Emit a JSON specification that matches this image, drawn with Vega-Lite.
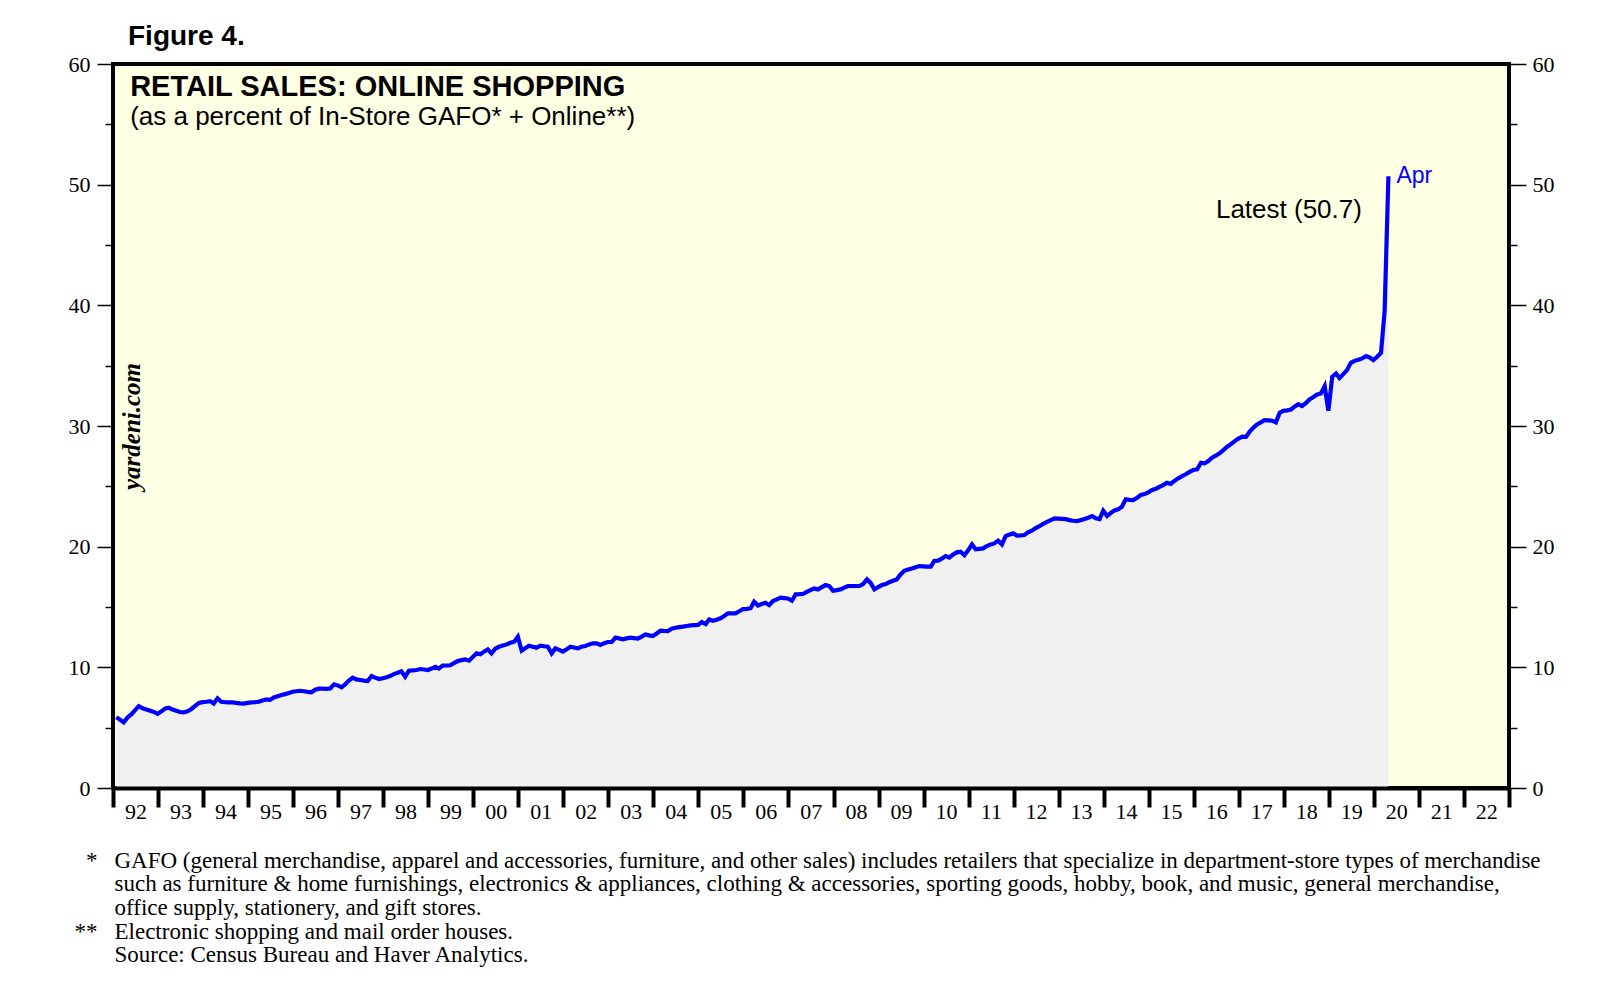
{
  "$schema": "https://vega.github.io/schema/vega-lite/v6.json",
  "autosize": {"type": "none"},
  "width": 1396,
  "height": 724,
  "padding": {"left": 113, "top": 64, "right": 101, "bottom": 196},
  "background": "white",
  "config": {
    "view": {"fill": "#FFFFE4", "stroke": "black", "strokeWidth": 4},
    "axis": {"labelFont": "Liberation Serif", "labelFontSize": 22, "labelColor": "black", "tickColor": "black", "grid": false}
  },
  "title": {"text": "Figure 4.", "anchor": "start", "frame": "group", "dx": 15, "offset": 2, "font": "Liberation Sans", "fontSize": 28, "fontWeight": "bold", "color": "black"},
  "datasets": {
    "sales": [
      {"d":"1992-01-28","v":5.86},{"d":"1992-02-28","v":5.65},{"d":"1992-03-28","v":5.44},{"d":"1992-04-28","v":5.85},{"d":"1992-05-28","v":6.10},{"d":"1992-06-28","v":6.45},{"d":"1992-07-28","v":6.79},{"d":"1992-08-28","v":6.60},{"d":"1992-09-28","v":6.50},{"d":"1992-10-28","v":6.40},{"d":"1992-11-28","v":6.30},{"d":"1992-12-28","v":6.15},
      {"d":"1993-01-28","v":6.35},{"d":"1993-02-28","v":6.60},{"d":"1993-03-28","v":6.65},{"d":"1993-04-28","v":6.50},{"d":"1993-05-28","v":6.40},{"d":"1993-06-28","v":6.30},{"d":"1993-07-28","v":6.27},{"d":"1993-08-28","v":6.35},{"d":"1993-09-28","v":6.55},{"d":"1993-10-28","v":6.80},{"d":"1993-11-28","v":7.05},{"d":"1993-12-28","v":7.12},
      {"d":"1994-01-28","v":7.15},{"d":"1994-02-28","v":7.20},{"d":"1994-03-28","v":7.00},{"d":"1994-04-28","v":7.43},{"d":"1994-05-28","v":7.15},{"d":"1994-06-28","v":7.12},{"d":"1994-07-28","v":7.10},{"d":"1994-08-28","v":7.10},{"d":"1994-09-28","v":7.05},{"d":"1994-10-28","v":7.02},{"d":"1994-11-28","v":7.00},{"d":"1994-12-28","v":7.05},
      {"d":"1995-01-28","v":7.10},{"d":"1995-02-28","v":7.12},{"d":"1995-03-28","v":7.15},{"d":"1995-04-28","v":7.25},{"d":"1995-05-28","v":7.35},{"d":"1995-06-28","v":7.30},{"d":"1995-07-28","v":7.50},{"d":"1995-08-28","v":7.60},{"d":"1995-09-28","v":7.70},{"d":"1995-10-28","v":7.78},{"d":"1995-11-28","v":7.88},{"d":"1995-12-28","v":7.98},
      {"d":"1996-01-28","v":8.02},{"d":"1996-02-28","v":8.06},{"d":"1996-03-28","v":8.02},{"d":"1996-04-28","v":7.97},{"d":"1996-05-28","v":7.93},{"d":"1996-06-28","v":8.15},{"d":"1996-07-28","v":8.23},{"d":"1996-08-28","v":8.23},{"d":"1996-09-28","v":8.22},{"d":"1996-10-28","v":8.25},{"d":"1996-11-28","v":8.59},{"d":"1996-12-28","v":8.50},
      {"d":"1997-01-28","v":8.34},{"d":"1997-02-28","v":8.60},{"d":"1997-03-28","v":8.90},{"d":"1997-04-28","v":9.14},{"d":"1997-05-28","v":9.00},{"d":"1997-06-28","v":8.95},{"d":"1997-07-28","v":8.90},{"d":"1997-08-28","v":8.86},{"d":"1997-09-28","v":9.28},{"d":"1997-10-28","v":9.15},{"d":"1997-11-28","v":9.03},{"d":"1997-12-28","v":9.10},
      {"d":"1998-01-28","v":9.17},{"d":"1998-02-28","v":9.30},{"d":"1998-03-28","v":9.44},{"d":"1998-04-28","v":9.55},{"d":"1998-05-28","v":9.67},{"d":"1998-06-28","v":9.22},{"d":"1998-07-28","v":9.72},{"d":"1998-08-28","v":9.75},{"d":"1998-09-28","v":9.78},{"d":"1998-10-28","v":9.86},{"d":"1998-11-28","v":9.82},{"d":"1998-12-28","v":9.78},
      {"d":"1999-01-28","v":9.90},{"d":"1999-02-28","v":10.05},{"d":"1999-03-28","v":9.90},{"d":"1999-04-28","v":10.14},{"d":"1999-05-28","v":10.15},{"d":"1999-06-28","v":10.17},{"d":"1999-07-28","v":10.35},{"d":"1999-08-28","v":10.52},{"d":"1999-09-28","v":10.60},{"d":"1999-10-28","v":10.66},{"d":"1999-11-28","v":10.55},{"d":"1999-12-28","v":10.85},
      {"d":"2000-01-28","v":11.16},{"d":"2000-02-28","v":11.08},{"d":"2000-03-28","v":11.30},{"d":"2000-04-28","v":11.49},{"d":"2000-05-28","v":11.16},{"d":"2000-06-28","v":11.55},{"d":"2000-07-28","v":11.70},{"d":"2000-08-28","v":11.80},{"d":"2000-09-28","v":11.90},{"d":"2000-10-28","v":12.04},{"d":"2000-11-28","v":12.12},{"d":"2000-12-28","v":12.54},
      {"d":"2001-01-28","v":11.38},{"d":"2001-02-28","v":11.60},{"d":"2001-03-28","v":11.79},{"d":"2001-04-28","v":11.70},{"d":"2001-05-28","v":11.63},{"d":"2001-06-28","v":11.79},{"d":"2001-07-28","v":11.75},{"d":"2001-08-28","v":11.71},{"d":"2001-09-28","v":11.16},{"d":"2001-10-28","v":11.57},{"d":"2001-11-28","v":11.45},{"d":"2001-12-28","v":11.30},
      {"d":"2002-01-28","v":11.50},{"d":"2002-02-28","v":11.71},{"d":"2002-03-28","v":11.65},{"d":"2002-04-28","v":11.57},{"d":"2002-05-28","v":11.70},{"d":"2002-06-28","v":11.77},{"d":"2002-07-28","v":11.90},{"d":"2002-08-28","v":11.99},{"d":"2002-09-28","v":11.99},{"d":"2002-10-28","v":11.85},{"d":"2002-11-28","v":12.00},{"d":"2002-12-28","v":12.10},
      {"d":"2003-01-28","v":12.10},{"d":"2003-02-28","v":12.46},{"d":"2003-03-28","v":12.40},{"d":"2003-04-28","v":12.32},{"d":"2003-05-28","v":12.40},{"d":"2003-06-28","v":12.46},{"d":"2003-07-28","v":12.42},{"d":"2003-08-28","v":12.38},{"d":"2003-09-28","v":12.55},{"d":"2003-10-28","v":12.73},{"d":"2003-11-28","v":12.65},{"d":"2003-12-28","v":12.59},
      {"d":"2004-01-28","v":12.80},{"d":"2004-02-28","v":13.04},{"d":"2004-03-28","v":13.02},{"d":"2004-04-28","v":13.01},{"d":"2004-05-28","v":13.20},{"d":"2004-06-28","v":13.28},{"d":"2004-07-28","v":13.33},{"d":"2004-08-28","v":13.37},{"d":"2004-09-28","v":13.43},{"d":"2004-10-28","v":13.48},{"d":"2004-11-28","v":13.50},{"d":"2004-12-28","v":13.51},
      {"d":"2005-01-28","v":13.75},{"d":"2005-02-28","v":13.59},{"d":"2005-03-28","v":13.97},{"d":"2005-04-28","v":13.86},{"d":"2005-05-28","v":13.95},{"d":"2005-06-28","v":14.06},{"d":"2005-07-28","v":14.25},{"d":"2005-08-28","v":14.47},{"d":"2005-09-28","v":14.47},{"d":"2005-10-28","v":14.47},{"d":"2005-11-28","v":14.65},{"d":"2005-12-28","v":14.83},
      {"d":"2006-01-28","v":14.85},{"d":"2006-02-28","v":14.90},{"d":"2006-03-28","v":15.44},{"d":"2006-04-28","v":15.13},{"d":"2006-05-28","v":15.25},{"d":"2006-06-28","v":15.35},{"d":"2006-07-28","v":15.16},{"d":"2006-08-28","v":15.50},{"d":"2006-09-28","v":15.63},{"d":"2006-10-28","v":15.77},{"d":"2006-11-28","v":15.74},{"d":"2006-12-28","v":15.71},
      {"d":"2007-01-28","v":15.52},{"d":"2007-02-28","v":16.05},{"d":"2007-03-28","v":16.06},{"d":"2007-04-28","v":16.08},{"d":"2007-05-28","v":16.25},{"d":"2007-06-28","v":16.40},{"d":"2007-07-28","v":16.54},{"d":"2007-08-28","v":16.46},{"d":"2007-09-28","v":16.65},{"d":"2007-10-28","v":16.82},{"d":"2007-11-28","v":16.74},{"d":"2007-12-28","v":16.35},
      {"d":"2008-01-28","v":16.40},{"d":"2008-02-28","v":16.46},{"d":"2008-03-28","v":16.60},{"d":"2008-04-28","v":16.74},{"d":"2008-05-28","v":16.74},{"d":"2008-06-28","v":16.74},{"d":"2008-07-28","v":16.74},{"d":"2008-08-28","v":16.90},{"d":"2008-09-28","v":17.29},{"d":"2008-10-28","v":17.00},{"d":"2008-11-28","v":16.46},{"d":"2008-12-28","v":16.65},
      {"d":"2009-01-28","v":16.82},{"d":"2009-02-28","v":16.90},{"d":"2009-03-28","v":17.05},{"d":"2009-04-28","v":17.18},{"d":"2009-05-28","v":17.29},{"d":"2009-06-28","v":17.70},{"d":"2009-07-28","v":18.00},{"d":"2009-08-28","v":18.10},{"d":"2009-09-28","v":18.20},{"d":"2009-10-28","v":18.30},{"d":"2009-11-28","v":18.39},{"d":"2009-12-28","v":18.37},
      {"d":"2010-01-28","v":18.34},{"d":"2010-02-28","v":18.34},{"d":"2010-03-28","v":18.81},{"d":"2010-04-28","v":18.84},{"d":"2010-05-28","v":19.00},{"d":"2010-06-28","v":19.22},{"d":"2010-07-28","v":19.10},{"d":"2010-08-28","v":19.35},{"d":"2010-09-28","v":19.53},{"d":"2010-10-28","v":19.58},{"d":"2010-11-28","v":19.30},{"d":"2010-12-28","v":19.70},
      {"d":"2011-01-28","v":20.19},{"d":"2011-02-28","v":19.78},{"d":"2011-03-28","v":19.82},{"d":"2011-04-28","v":19.86},{"d":"2011-05-28","v":20.05},{"d":"2011-06-28","v":20.19},{"d":"2011-07-28","v":20.27},{"d":"2011-08-28","v":20.49},{"d":"2011-09-28","v":20.19},{"d":"2011-10-28","v":20.88},{"d":"2011-11-28","v":21.00},{"d":"2011-12-28","v":21.10},
      {"d":"2012-01-28","v":20.91},{"d":"2012-02-28","v":20.93},{"d":"2012-03-28","v":20.96},{"d":"2012-04-28","v":21.20},{"d":"2012-05-28","v":21.32},{"d":"2012-06-28","v":21.54},{"d":"2012-07-28","v":21.70},{"d":"2012-08-28","v":21.90},{"d":"2012-09-28","v":22.05},{"d":"2012-10-28","v":22.20},{"d":"2012-11-28","v":22.34},{"d":"2012-12-28","v":22.33},
      {"d":"2013-01-28","v":22.31},{"d":"2013-02-28","v":22.28},{"d":"2013-03-28","v":22.20},{"d":"2013-04-28","v":22.15},{"d":"2013-05-28","v":22.12},{"d":"2013-06-28","v":22.20},{"d":"2013-07-28","v":22.29},{"d":"2013-08-28","v":22.40},{"d":"2013-09-28","v":22.54},{"d":"2013-10-28","v":22.35},{"d":"2013-11-28","v":22.29},{"d":"2013-12-28","v":22.98},
      {"d":"2014-01-28","v":22.54},{"d":"2014-02-28","v":22.80},{"d":"2014-03-28","v":23.00},{"d":"2014-04-28","v":23.09},{"d":"2014-05-28","v":23.31},{"d":"2014-06-28","v":23.92},{"d":"2014-07-28","v":23.88},{"d":"2014-08-28","v":23.86},{"d":"2014-09-28","v":24.05},{"d":"2014-10-28","v":24.28},{"d":"2014-11-28","v":24.36},{"d":"2014-12-28","v":24.50},
      {"d":"2015-01-28","v":24.70},{"d":"2015-02-28","v":24.80},{"d":"2015-03-28","v":24.96},{"d":"2015-04-28","v":25.10},{"d":"2015-05-28","v":25.30},{"d":"2015-06-28","v":25.20},{"d":"2015-07-28","v":25.45},{"d":"2015-08-28","v":25.66},{"d":"2015-09-28","v":25.85},{"d":"2015-10-28","v":26.00},{"d":"2015-11-28","v":26.20},{"d":"2015-12-28","v":26.35},
      {"d":"2016-01-28","v":26.40},{"d":"2016-02-28","v":26.95},{"d":"2016-03-28","v":26.90},{"d":"2016-04-28","v":27.10},{"d":"2016-05-28","v":27.37},{"d":"2016-06-28","v":27.55},{"d":"2016-07-28","v":27.73},{"d":"2016-08-28","v":28.00},{"d":"2016-09-28","v":28.28},{"d":"2016-10-28","v":28.50},{"d":"2016-11-28","v":28.75},{"d":"2016-12-28","v":28.95},
      {"d":"2017-01-28","v":29.11},{"d":"2017-02-28","v":29.10},{"d":"2017-03-28","v":29.52},{"d":"2017-04-28","v":29.85},{"d":"2017-05-28","v":30.13},{"d":"2017-06-28","v":30.30},{"d":"2017-07-28","v":30.49},{"d":"2017-08-28","v":30.47},{"d":"2017-09-28","v":30.44},{"d":"2017-10-28","v":30.30},{"d":"2017-11-28","v":31.10},{"d":"2017-12-28","v":31.26},
      {"d":"2018-01-28","v":31.30},{"d":"2018-02-28","v":31.37},{"d":"2018-03-28","v":31.60},{"d":"2018-04-28","v":31.81},{"d":"2018-05-28","v":31.65},{"d":"2018-06-28","v":31.90},{"d":"2018-07-28","v":32.20},{"d":"2018-08-28","v":32.40},{"d":"2018-09-28","v":32.61},{"d":"2018-10-28","v":32.70},{"d":"2018-11-28","v":33.30},{"d":"2018-12-28","v":31.26},
      {"d":"2019-01-28","v":34.08},{"d":"2019-02-28","v":34.35},{"d":"2019-03-28","v":33.97},{"d":"2019-04-28","v":34.30},{"d":"2019-05-28","v":34.63},{"d":"2019-06-28","v":35.24},{"d":"2019-07-28","v":35.40},{"d":"2019-08-28","v":35.50},{"d":"2019-09-28","v":35.60},{"d":"2019-10-28","v":35.79},{"d":"2019-11-28","v":35.68},{"d":"2019-12-28","v":35.46},
      {"d":"2020-01-28","v":35.74},{"d":"2020-02-28","v":36.07},{"d":"2020-03-28","v":39.50},{"d":"2020-04-28","v":50.70}
    ]
  },
  "resolve": {"axis": {"x": "independent", "y": "independent"}},
  "layer": [
    {
      "data": {"name": "sales"},
      "mark": {"type": "area", "color": "#F0F0F0", "opacity": 1},
      "encoding": {
        "x": {
          "field": "d", "type": "temporal",
          "scale": {"domain": [{"year": 1992, "month": 1, "date": 1}, {"year": 2023, "month": 1, "date": 1}]},
          "axis": {
            "orient": "bottom",
            "values": [{"year":1992},{"year":1993},{"year":1994},{"year":1995},{"year":1996},{"year":1997},{"year":1998},{"year":1999},{"year":2000},{"year":2001},{"year":2002},{"year":2003},{"year":2004},{"year":2005},{"year":2006},{"year":2007},{"year":2008},{"year":2009},{"year":2010},{"year":2011},{"year":2012},{"year":2013},{"year":2014},{"year":2015},{"year":2016},{"year":2017},{"year":2018},{"year":2019},{"year":2020},{"year":2021},{"year":2022},{"year":2023}],
            "labels": false, "tickSize": 19, "tickWidth": 4, "tickColor": "black",
            "domain": true, "domainWidth": 4, "domainColor": "black", "zindex": 2,
            "title": [
              "GAFO (general merchandise, apparel and accessories, furniture, and other sales) includes retailers that specialize in department-store types of merchandise",
              "such as furniture & home furnishings, electronics & appliances, clothing & accessories, sporting goods, hobby, book, and music, general merchandise,",
              "office supply, stationery, and gift stores.",
              "Electronic shopping and mail order houses.",
              "Source: Census Bureau and Haver Analytics."
            ],
            "titleX": 1, "titleY": 79, "titleAlign": "left", "titleAnchor": "start", "titleBaseline": "alphabetic", "titleAngle": 0,
            "titleFont": "Liberation Serif", "titleFontSize": 23, "titleFontWeight": "normal", "titleLineHeight": 23.7, "titleColor": "black"
          }
        },
        "y": {
          "field": "v", "type": "quantitative",
          "scale": {"domain": [0, 60], "nice": false},
          "axis": {
            "orient": "left", "values": [0, 10, 20, 30, 40, 50, 60],
            "tickSize": 16, "tickWidth": 1.5, "labelPadding": 7, "domain": false, "labelBaseline": "middle", "zindex": 1,
            "title": "yardeni.com", "titleX": 18, "titleY": 362, "titleAngle": -90, "titleAlign": "center", "titleBaseline": "middle",
            "titleFont": "Liberation Serif", "titleFontSize": 25, "titleFontStyle": "italic", "titleFontWeight": "bold", "titleColor": "black"
          }
        }
      }
    },
    {
      "data": {"name": "sales"},
      "mark": {"type": "line", "color": "#0000FF", "strokeWidth": 4.2},
      "encoding": {
        "x": {
          "field": "d", "type": "temporal",
          "scale": {"domain": [{"year": 1992, "month": 1, "date": 1}, {"year": 2023, "month": 1, "date": 1}]},
          "axis": {
            "orient": "bottom",
            "values": [{"year":1992,"month":7,"date":1},{"year":1993,"month":7,"date":1},{"year":1994,"month":7,"date":1},{"year":1995,"month":7,"date":1},{"year":1996,"month":7,"date":1},{"year":1997,"month":7,"date":1},{"year":1998,"month":7,"date":1},{"year":1999,"month":7,"date":1},{"year":2000,"month":7,"date":1},{"year":2001,"month":7,"date":1},{"year":2002,"month":7,"date":1},{"year":2003,"month":7,"date":1},{"year":2004,"month":7,"date":1},{"year":2005,"month":7,"date":1},{"year":2006,"month":7,"date":1},{"year":2007,"month":7,"date":1},{"year":2008,"month":7,"date":1},{"year":2009,"month":7,"date":1},{"year":2010,"month":7,"date":1},{"year":2011,"month":7,"date":1},{"year":2012,"month":7,"date":1},{"year":2013,"month":7,"date":1},{"year":2014,"month":7,"date":1},{"year":2015,"month":7,"date":1},{"year":2016,"month":7,"date":1},{"year":2017,"month":7,"date":1},{"year":2018,"month":7,"date":1},{"year":2019,"month":7,"date":1},{"year":2020,"month":7,"date":1},{"year":2021,"month":7,"date":1},{"year":2022,"month":7,"date":1}],
            "format": "%y", "ticks": false, "tickSize": 0, "domain": false, "labelPadding": 13,
            "labelFlush": false, "labelOverlap": false, "labelAlign": "center", "labelBaseline": "top", "title": null
          }
        },
        "y": {
          "field": "v", "type": "quantitative",
          "scale": {"domain": [0, 60], "nice": false},
          "axis": {
            "orient": "right", "values": [0, 10, 20, 30, 40, 50, 60],
            "tickSize": 17, "tickWidth": 1.5, "labelPadding": 6, "domain": false, "labelBaseline": "middle",
            "title": "*", "titleX": -1412, "titleY": 803, "titleAngle": 0, "titleAlign": "right", "titleBaseline": "alphabetic",
            "titleFont": "Liberation Serif", "titleFontSize": 23, "titleFontWeight": "normal", "titleColor": "black"
          }
        }
      }
    },
    {
      "data": {"values": [{"label": "Latest (50.7)"}]},
      "mark": {"type": "text", "align": "right", "baseline": "middle", "font": "Liberation Sans", "fontSize": 26, "color": "black"},
      "encoding": {
        "x": {"datum": {"year": 2019, "month": 9, "date": 26}, "type": "temporal", "scale": {"domain": [{"year": 1992, "month": 1, "date": 1}, {"year": 2023, "month": 1, "date": 1}]}, "axis": null},
        "y": {"datum": 47.9, "type": "quantitative", "scale": {"domain": [0, 60], "nice": false},
          "axis": {"orient": "left", "values": [5, 15, 25, 35, 45, 55], "tickSize": 8, "tickWidth": 1.5, "labels": false, "domain": false, "title": null}},
        "text": {"field": "label"}
      }
    },
    {
      "data": {"name": "sales"},
      "transform": [{"filter": "datum.v >= 50"}],
      "mark": {"type": "text", "align": "left", "baseline": "middle", "dx": 8, "font": "Liberation Sans", "fontSize": 23, "color": "#0000FF"},
      "encoding": {
        "x": {"field": "d", "type": "temporal", "scale": {"domain": [{"year": 1992, "month": 1, "date": 1}, {"year": 2023, "month": 1, "date": 1}]}, "axis": null},
        "y": {"field": "v", "type": "quantitative", "scale": {"domain": [0, 60], "nice": false},
          "axis": {"orient": "right", "values": [5, 15, 25, 35, 45, 55], "tickSize": 8, "tickWidth": 1.5, "labels": false, "domain": false,
            "title": "**", "titleX": -1412, "titleY": 874.1, "titleAngle": 0, "titleAlign": "right", "titleBaseline": "alphabetic",
            "titleFont": "Liberation Serif", "titleFontSize": 23, "titleFontWeight": "normal", "titleColor": "black"}},
        "text": {"value": "Apr"}
      }
    },
    {
      "data": {"values": [{"label": "RETAIL SALES: ONLINE SHOPPING"}]},
      "mark": {"type": "text", "align": "left", "baseline": "alphabetic", "font": "Liberation Sans", "fontSize": 29, "fontWeight": "bold", "color": "black"},
      "encoding": {
        "x": {"datum": {"year": 1992, "month": 5, "date": 19}, "type": "temporal", "scale": {"domain": [{"year": 1992, "month": 1, "date": 1}, {"year": 2023, "month": 1, "date": 1}]}, "axis": null},
        "y": {"datum": 57.37, "type": "quantitative", "scale": {"domain": [0, 60], "nice": false}, "axis": null},
        "text": {"field": "label"}
      }
    },
    {
      "data": {"values": [{"label": "(as a percent of In-Store GAFO* + Online**)"}]},
      "mark": {"type": "text", "align": "left", "baseline": "alphabetic", "font": "Liberation Sans", "fontSize": 26, "color": "black"},
      "encoding": {
        "x": {"datum": {"year": 1992, "month": 5, "date": 19}, "type": "temporal", "scale": {"domain": [{"year": 1992, "month": 1, "date": 1}, {"year": 2023, "month": 1, "date": 1}]}, "axis": null},
        "y": {"datum": 54.93, "type": "quantitative", "scale": {"domain": [0, 60], "nice": false}, "axis": null},
        "text": {"field": "label"}
      }
    }
  ]
}
